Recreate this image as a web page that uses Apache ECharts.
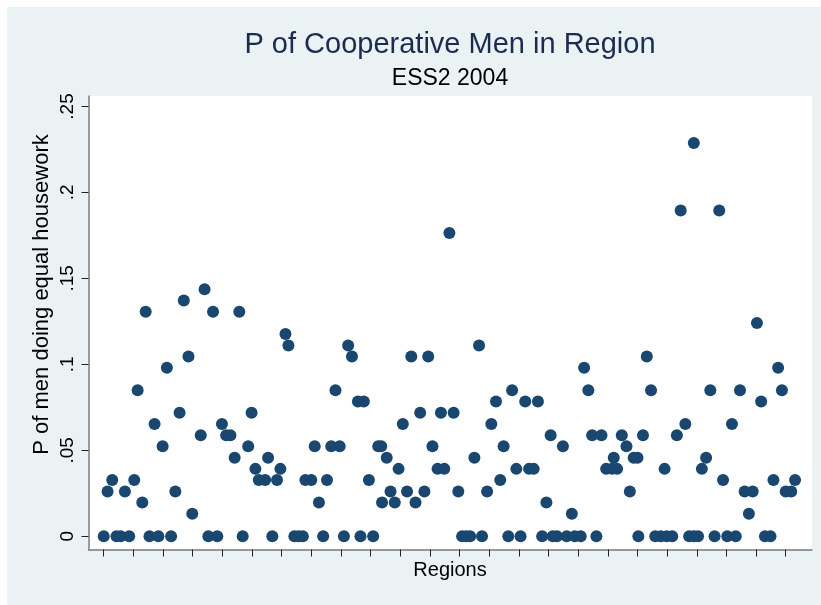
<!DOCTYPE html>
<html>
<head>
<meta charset="utf-8">
<title>P of Cooperative Men in Region</title>
<script src="https://cdn.jsdelivr.net/npm/echarts@6/dist/echarts.min.js"></script>
<style>
    body { margin: 0; background: #ffffff; }
    #chart { position: absolute; left: 7px; top: 7px; width: 814px; height: 598px; }
</style>
</head>
<body>
<div id="chart"></div>
<script>
// Region index (position along x axis) and share of cooperative men
const regionIdx = [
    0.0, 0.9, 2.0, 3.0, 4.0, 5.0, 6.0, 7.2, 8.0, 9.1,
    9.9, 10.8, 12.0, 12.9, 13.9, 14.9, 15.9, 16.9, 17.9, 18.9,
    20.0, 20.9, 22.9, 23.8, 24.7, 25.8, 26.8, 27.9, 28.9, 29.9,
    30.9, 32.0, 32.8, 34.1, 34.9, 35.8, 36.6, 38.1, 38.8, 39.8,
    40.9, 41.7, 42.9, 43.6, 45.0, 46.0, 47.0, 47.6, 49.0, 49.8,
    50.8, 51.8, 52.7, 53.7, 54.7, 55.7, 56.7, 57.7, 58.6, 60.0,
    60.6, 61.4, 62.6, 63.6, 64.8, 65.5, 65.7, 66.8, 67.7, 68.7,
    69.6, 70.6, 71.6, 72.6, 73.6, 74.7, 75.7, 76.6, 77.6, 78.8,
    79.6, 80.4, 81.6, 82.6, 83.7, 84.6, 85.6, 86.5, 87.5, 88.6,
    89.3, 90.5, 91.5, 92.6, 93.6, 94.4, 95.5, 96.4, 97.4, 98.4,
    99.5, 100.4, 101.5, 102.5, 103.5, 104.5, 105.5, 106.0, 107.0, 108.4,
    109.3, 110.5, 111.2, 112.6, 113.4, 114.4, 115.3, 116.3, 117.5, 118.6,
    120.0, 120.4, 121.2, 122.3, 123.4, 124.2, 125.1, 126.0, 126.2, 127.3,
    128.2, 129.2, 130.2, 131.5, 132.4, 132.9, 134.2, 135.3, 136.2, 137.3,
    138.2, 139.3, 139.3, 140.3, 141.2, 142.2, 143.2, 144.2, 145.3, 146.2,
    147.2, 148.3, 149.2, 150.2, 151.3, 152.3, 153.2, 154.2, 155.2, 156.1,
    157.4, 158.1, 159.2, 160.1, 161.0, 162.3, 163.2
];
const shareCoop = [
    0, 0.0261, 0.0327, 0, 0, 0.0261, 0, 0.0327, 0.0849, 0.0196,
    0.1306, 0, 0.0653, 0, 0.0523, 0.098, 0, 0.0261, 0.0719, 0.1372,
    0.1045, 0.0131, 0.0588, 0.1437, 0, 0.1306, 0, 0.0653, 0.0588, 0.0588,
    0.0457, 0.1306, 0, 0.0523, 0.0719, 0.0392, 0.0327, 0.0327, 0.0457, 0,
    0.0327, 0.0392, 0.1176, 0.111, 0, 0, 0, 0.0327, 0.0327, 0.0523,
    0.0196, 0, 0.0327, 0.0523, 0.0849, 0.0523, 0, 0.111, 0.1045, 0.0784,
    0, 0.0784, 0.0327, 0, 0.0523, 0.0523, 0.0196, 0.0457, 0.0261, 0.0196,
    0.0392, 0.0653, 0.0261, 0.1045, 0.0196, 0.0719, 0.0261, 0.1045, 0.0523, 0.0392,
    0.0719, 0.0392, 0.1764, 0.0719, 0.0261, 0, 0, 0, 0.0457, 0.111,
    0, 0.0261, 0.0653, 0.0784, 0.0327, 0.0523, 0, 0.0849, 0.0392, 0,
    0.0784, 0.0392, 0.0392, 0.0784, 0, 0.0196, 0.0588, 0, 0, 0.0523,
    0, 0.0131, 0, 0, 0.098, 0.0849, 0.0588, 0, 0.0588, 0.0392,
    0.0392, 0.0457, 0.0392, 0.0588, 0.0523, 0.0261, 0.0457, 0.0457, 0, 0.0588,
    0.1045, 0.0849, 0, 0, 0.0392, 0, 0, 0.0588, 0.1895, 0.0653,
    0, 0, 0.2287, 0, 0.0392, 0.0457, 0.0849, 0, 0.1895, 0.0327,
    0, 0.0653, 0, 0.0849, 0.0261, 0.0131, 0.0261, 0.1241, 0.0784, 0,
    0, 0.0327, 0.098, 0.0849, 0.0261, 0.0261, 0.0327
];

// Axis ticks (x ticks carry no labels in the original)
const xTickValues = [0, 7, 14, 21, 28, 35, 42, 49, 56, 63, 70, 77, 84, 91, 98, 105, 112, 119, 126, 133, 140, 147, 154, 161];
const yTickValues = [0, 0.05, 0.1, 0.15, 0.2, 0.25];
const yTickLabels = ['0', '.05', '.1', '.15', '.2', '.25'];

const titleText = 'P of Cooperative Men in Region';
const subtitleText = 'ESS2 2004';
const xTitle = 'Regions';
const yTitle = 'P of men doing equal housework';

const chart = echarts.init(document.getElementById('chart'));

// Build [x, y] points from the two arrays
const points = regionIdx.map((x, i) => [x, shareCoop[i]]);

const font = 'Liberation Sans, Arial, Helvetica, sans-serif';

const options = {
    backgroundColor: '#EAF2F3',
    animation: false,
    grid: {
        left: 81.5,
        right: 9,
        top: 89,
        bottom: 55.5,
        show: true,
        backgroundColor: '#ffffff',
        borderWidth: 0
    },
    xAxis: {
        type: 'value',
        min: -3.6,
        max: 167.2,
        splitLine: { show: false },
        axisLine: { show: true, onZero: false, lineStyle: { color: '#7a7a7a', width: 1.5 } },
        axisTick: {
            show: true,
            customValues: xTickValues,
            length: 7,
            lineStyle: { color: '#222222', width: 1 }
        },
        axisLabel: { show: false }
    },
    yAxis: {
        type: 'value',
        min: -0.0077,
        max: 0.2561,
        splitLine: { show: false },
        axisLine: { show: true, onZero: false, lineStyle: { color: '#7a7a7a', width: 1.5 } },
        axisTick: {
            show: true,
            customValues: yTickValues,
            length: 7,
            lineStyle: { color: '#222222', width: 1 }
        },
        axisLabel: {
            customValues: yTickValues,
            rotate: 90,
            margin: 11,
            fontSize: 19,
            fontFamily: font,
            color: '#000000',
            formatter: function (v) {
                const i = yTickValues.findIndex(t => Math.abs(t - v) < 1e-9);
                return i >= 0 ? yTickLabels[i] : '';
            }
        }
    },
    series: [
        {
            type: 'scatter',
            data: points,
            symbol: 'circle',
            symbolSize: 12,
            itemStyle: { color: '#1A476F', opacity: 1 }
        }
    ],
    graphic: [
        {
            type: 'text',
            x: 443, y: 38,
            style: {
                text: titleText, fontSize: 29, fontFamily: font, fill: '#1c2b52',
                textAlign: 'center', textVerticalAlign: 'middle'
            }
        },
        {
            type: 'text',
            x: 443, y: 72,
            style: {
                text: subtitleText, fontSize: 23, fontFamily: font, fill: '#000000',
                textAlign: 'center', textVerticalAlign: 'middle'
            }
        },
        {
            type: 'text',
            x: 443, y: 563,
            style: {
                text: xTitle, fontSize: 20, fontFamily: font, fill: '#000000',
                textAlign: 'center', textVerticalAlign: 'middle'
            }
        },
        {
            type: 'text',
            x: 34.7, y: 287.5,
            rotation: Math.PI / 2,
            style: {
                text: yTitle, fontSize: 22, fontFamily: font, fill: '#000000',
                textAlign: 'center', textVerticalAlign: 'middle'
            }
        }
    ]
};

chart.setOption(options);
</script>
</body>
</html>
